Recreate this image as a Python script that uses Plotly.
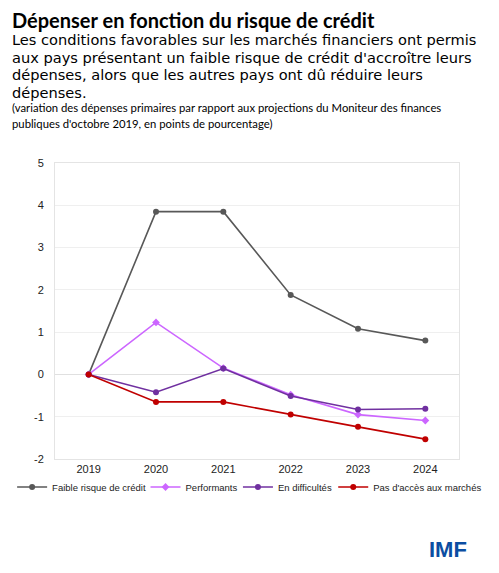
import plotly.graph_objects as go

years = ['2019', '2020', '2021', '2022', '2023', '2024']

faible_risque = [0, 3.85, 3.85, 1.88, 1.08, 0.80]
performants = [0, 1.23, 0.15, -0.48, -0.95, -1.09]
en_difficultes = [0, -0.42, 0.14, -0.51, -0.83, -0.81]
pas_acces = [0, -0.65, -0.65, -0.95, -1.24, -1.53]

y_ticks = [-2, -1, 0, 1, 2, 3, 4, 5]
y_ticktext = ['-2', '-1', '0', '1', '2', '3', '4', '5']

series = [
    ('Faible risque de crédit', faible_risque, '#585858', 'circle'),
    ('Performants', performants, '#cc66ff', 'diamond'),
    ('En difficultés', en_difficultes, '#7030a0', 'circle'),
    ("Pas d'accès aux marchés", pas_acces, '#c00000', 'circle'),
]

# plot area in pixels: x 55..479, y 163..459
def px_x(p):
    return (p - 55) / 424.0

def px_y(p):
    return (459 - p) / 296.0

legend_left = [10, 150, 247, 347]   # px where each legend entry starts

fig = go.Figure()
legends = {}
for i, (name, vals, color, sym) in enumerate(series):
    key = 'legend' if i == 0 else 'legend%d' % (i + 1)
    fig.add_trace(go.Scatter(x=years, y=vals, name=name, mode='lines+markers',
                             line=dict(color=color, width=1.6),
                             marker=dict(color=color, size=6, symbol=sym),
                             legend=key))
    legends[key] = dict(orientation='h', x=px_x(legend_left[i]), xanchor='left',
                        y=px_y(487), yanchor='middle', bgcolor='rgba(0,0,0,0)',
                        font=dict(size=9.5, color='#222222'), itemwidth=30)

sub_lines = [
    "Les conditions favorables sur les marchés financiers ont permis",
    "aux pays présentant un faible risque de crédit d'accroître leurs",
    "dépenses, alors que les autres pays ont dû réduire leurs",
    "dépenses.",
]
note_lines = [
    "(variation des dépenses primaires par rapport aux projections du Moniteur des finances",
    "publiques d'octobre 2019, en points de pourcentage)",
]

annotations = [
    dict(text='<b>Dépenser en fonction du risque de crédit</b>', x=px_x(9), y=px_y(7),
         font=dict(size=20, color='#000000', family='Lato, sans-serif')),
    dict(text='<b>IMF</b>', x=px_x(488), y=px_y(536),
         xanchor='right', font=dict(size=22, color='#0b4ea2', family='Liberation Sans, Arial')),
]
for i, line in enumerate(sub_lines):
    annotations.append(dict(text=line, x=px_x(9), y=px_y(30 + 17.7 * i),
                            font=dict(size=14.6, color='#000000', family='DejaVu Sans')))
for i, line in enumerate(note_lines):
    annotations.append(dict(text=line, x=px_x(9), y=px_y(100 + 16 * i),
                            font=dict(size=11.3, color='#000000', family='Lato, sans-serif')))
for a in annotations:
    a.setdefault('xanchor', 'left')
    a.update(xref='paper', yref='paper', yanchor='top', align='left',
             showarrow=False, borderpad=0)

fig.update_layout(
    width=499, height=573,
    margin=dict(l=55, r=20, t=163, b=114),
    paper_bgcolor='white', plot_bgcolor='white',
    font=dict(family='Liberation Sans, Arial', size=11, color='#222222'),
    showlegend=True,
    annotations=annotations,
    xaxis=dict(range=[-0.5, 5.5], showgrid=False, showline=True, linecolor='#e4e4e4',
               mirror=True, ticks='', tickfont=dict(size=11), automargin=False),
    yaxis=dict(range=[-2, 5], tickvals=y_ticks, ticktext=y_ticktext,
               showgrid=True, gridcolor='#efefef',
               showline=True, linecolor='#e4e4e4', mirror=True, zeroline=True,
               zerolinecolor='#e0e0e0', zerolinewidth=1, ticks='',
               tickfont=dict(size=11), ticklabelstandoff=8, automargin=False),
    **legends
)

# drop the default page margin and scrollbars so the figure sits at the window origin
fig.write_html('out.html', config={'displayModeBar': False},
               post_script="document.body.style.margin='0';"
                           "document.body.style.overflow='hidden';"
                           "document.documentElement.style.overflow='hidden';")
